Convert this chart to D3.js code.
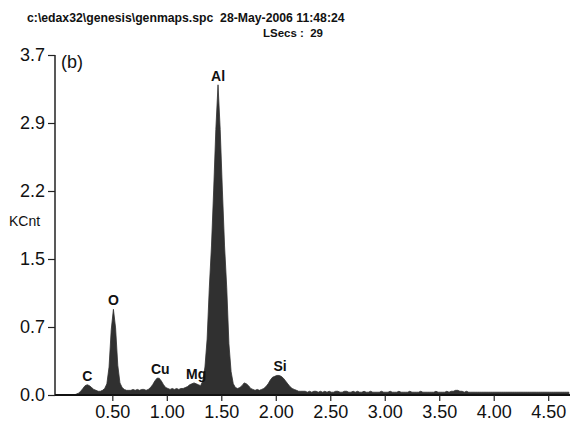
<!DOCTYPE html>
<html>
<head>
<meta charset="utf-8">
<script src="https://cdn.jsdelivr.net/npm/d3@7"></script>
<style>
  html, body { margin: 0; padding: 0; background: #fff; }
  svg { display: block; }
  text { font-family: Arial, "Liberation Sans", sans-serif; fill: #111; }
</style>
</head>
<body>
<svg id="chart" width="571" height="421"></svg>
<script>
// EDS spectrum: counts (KCnt) per 0.02 keV channel, first channel centred at 0.11 keV
const channelStart = 0.11;
const channelWidth = 0.02;
const counts = [
  // 0.11 - 0.49
  0, 0, 0, 0.01, 0.02, 0.04, 0.07, 0.10, 0.11, 0.10, 0.08, 0.06, 0.05, 0.04, 0.04, 0.05, 0.07, 0.12, 0.30, 0.70,
  // 0.51 - 0.89
  0.92, 0.72, 0.32, 0.13, 0.08, 0.06, 0.05, 0.05, 0.05, 0.06, 0.05, 0.06, 0.05, 0.06, 0.06, 0.05, 0.06, 0.08, 0.11, 0.15,
  // 0.91 - 1.29
  0.18, 0.18, 0.15, 0.11, 0.08, 0.07, 0.06, 0.07, 0.06, 0.07, 0.06, 0.07, 0.07, 0.08, 0.09, 0.11, 0.12, 0.13, 0.12, 0.11,
  // 1.31 - 1.69
  0.10, 0.15, 0.30, 0.60, 1.15, 1.60, 2.20, 2.85, 3.33, 2.85, 2.20, 1.60, 1.15, 0.55, 0.25, 0.12, 0.08, 0.07, 0.08, 0.10,
  // 1.71 - 2.09
  0.13, 0.12, 0.10, 0.07, 0.06, 0.05, 0.06, 0.05, 0.06, 0.07, 0.09, 0.12, 0.16, 0.19, 0.20, 0.21, 0.21, 0.20, 0.18, 0.15,
  // 2.11 - 2.25
  0.12, 0.09, 0.07, 0.06, 0.05, 0.04, 0.04, 0.04,
  // 2.27 - 2.51
  0.04, 0.03, 0.04, 0.03, 0.04, 0.04, 0.03, 0.04, 0.03, 0.04, 0.03, 0.04, 0.03,
  // 2.53 - 3.01
  0.03, 0.04, 0.04, 0.03, 0.03, 0.04, 0.04, 0.03, 0.03, 0.04, 0.03, 0.04, 0.03, 0.03, 0.04, 0.03, 0.03, 0.04, 0.03, 0.03, 0.03, 0.03, 0.04, 0.03, 0.03,
  // 3.03 - 3.51
  0.03, 0.04, 0.03, 0.03, 0.03, 0.04, 0.03, 0.03, 0.03, 0.03, 0.04, 0.03, 0.03, 0.03, 0.03, 0.04, 0.03, 0.03, 0.03, 0.03, 0.03, 0.03, 0.04, 0.03, 0.03,
  // 3.53 - 4.01
  0.03, 0.03, 0.04, 0.03, 0.04, 0.04, 0.05, 0.05, 0.04, 0.04, 0.03, 0.04, 0.03, 0.03, 0.03, 0.03, 0.03, 0.03, 0.03, 0.03, 0.03, 0.03, 0.03, 0.03, 0.03,
  // 4.03 - 4.51
  0.03, 0.03, 0.03, 0.03, 0.03, 0.03, 0.03, 0.03, 0.03, 0.03, 0.03, 0.03, 0.03, 0.03, 0.03, 0.03, 0.03, 0.03, 0.03, 0.03, 0.03, 0.03, 0.03, 0.03, 0.03,
  // 4.53 - 4.71
  0.03, 0.03, 0.03, 0.03, 0.03, 0.03, 0.03, 0.03, 0.03, 0.03
];

// Element lines labelled above their peaks (keV, peak height in KCnt)
const peakNames = ["C", "O", "Cu", "Mg", "Al", "Si"];
const peakEnergy = [0.27, 0.51, 0.94, 1.27, 1.47, 2.04];
const peakHeight = [0.11, 0.92, 0.18, 0.13, 3.33, 0.21];

const yTickValues = [0, 0.73, 1.46, 2.19, 2.92, 3.65];
const yTickLabels = ["0.0", "0.7", "1.5", "2.2", "2.9", "3.7"];
const xTickValues = [0.5, 1.0, 1.5, 2.0, 2.5, 3.0, 3.5, 4.0, 4.5];

const headerLine1 = "c:\\edax32\\genesis\\genmaps.spc  28-May-2006 11:48:24";
const headerLine2 = "LSecs :  29";
const panelLabel = "(b)";
const yUnit = "KCnt";

const svg = d3.select("#chart");
const plotLeft = 55, plotRight = 570, plotTop = 55, plotBottom = 395;

const x = d3.scaleLinear().domain([-0.026, 4.70]).range([plotLeft, plotRight]);
const y = d3.scaleLinear().domain([0, 3.65]).range([plotBottom, plotTop]);

const spectrum = counts.map((c, i) => ({ e: channelStart + i * channelWidth, c }))
  .filter(d => d.e <= 4.70);

// filled spectrum
const area = d3.area()
  .curve(d3.curveLinear)
  .x(d => x(d.e))
  .y0(y(0))
  .y1(d => y(d.c));

svg.append("path")
  .datum(spectrum)
  .attr("d", area)
  .attr("fill", "#303030")
  .attr("stroke", "#303030")
  .attr("stroke-width", 0.8)
  .attr("stroke-linejoin", "miter");

// axes
const yAxis = d3.axisLeft(y)
  .tickValues(yTickValues)
  .tickSize(7)
  .tickPadding(3)
  .tickFormat((d, i) => yTickLabels[i]);

const gy = svg.append("g").attr("transform", `translate(${plotLeft},0)`).call(yAxis);
gy.select(".domain").attr("d", `M0,${plotTop}V${plotBottom}`).attr("stroke", "#222").attr("stroke-width", 1.5);
gy.selectAll(".tick line").attr("stroke", "#222").attr("stroke-width", 1.2);
gy.selectAll(".tick text")
  .attr("font-size", 18)
  .attr("fill", "#111")
  .style("font-family", "Arial, 'Liberation Sans', sans-serif");

const xAxis = d3.axisBottom(x)
  .tickValues(xTickValues)
  .tickSize(6)
  .tickPadding(4)
  .tickFormat(d3.format(".2f"));

const gx = svg.append("g").attr("transform", `translate(0,${plotBottom})`).call(xAxis);
gx.select(".domain").attr("d", `M${plotLeft},0H${plotRight}`).attr("stroke", "#111").attr("stroke-width", 2);
gx.selectAll(".tick line").attr("stroke", "#222").attr("stroke-width", 1.2);
gx.selectAll(".tick text")
  .attr("font-size", 18)
  .attr("fill", "#111")
  .style("font-family", "Arial, 'Liberation Sans', sans-serif");

// peak labels
svg.append("g").selectAll("text")
  .data(peakNames)
  .join("text")
  .attr("x", (d, i) => x(peakEnergy[i]))
  .attr("y", (d, i) => y(peakHeight[i]) - 4)
  .attr("text-anchor", "middle")
  .attr("font-size", 14)
  .attr("font-weight", "bold")
  .text(d => d);

// header lines: font size chosen so each line spans its intended width
function fitText(sel, width, baseSize) {
  sel.attr("font-size", baseSize);
  const w = sel.node().getComputedTextLength();
  if (w > 0) sel.attr("font-size", baseSize * width / w);
  return sel;
}

fitText(svg.append("text")
  .attr("x", 27).attr("y", 22)
  .attr("font-weight", "bold")
  .style("white-space", "pre")
  .text(headerLine1), 318, 12);

fitText(svg.append("text")
  .attr("x", 323).attr("y", 37)
  .attr("text-anchor", "end")
  .attr("font-weight", "bold")
  .style("white-space", "pre")
  .text(headerLine2), 60, 12);

svg.append("text")
  .attr("x", 61).attr("y", 68)
  .attr("font-size", 18)
  .text(panelLabel);

svg.append("text")
  .attr("x", 9).attr("y", 226)
  .attr("font-size", 14)
  .text(yUnit);
</script>
</body>
</html>
